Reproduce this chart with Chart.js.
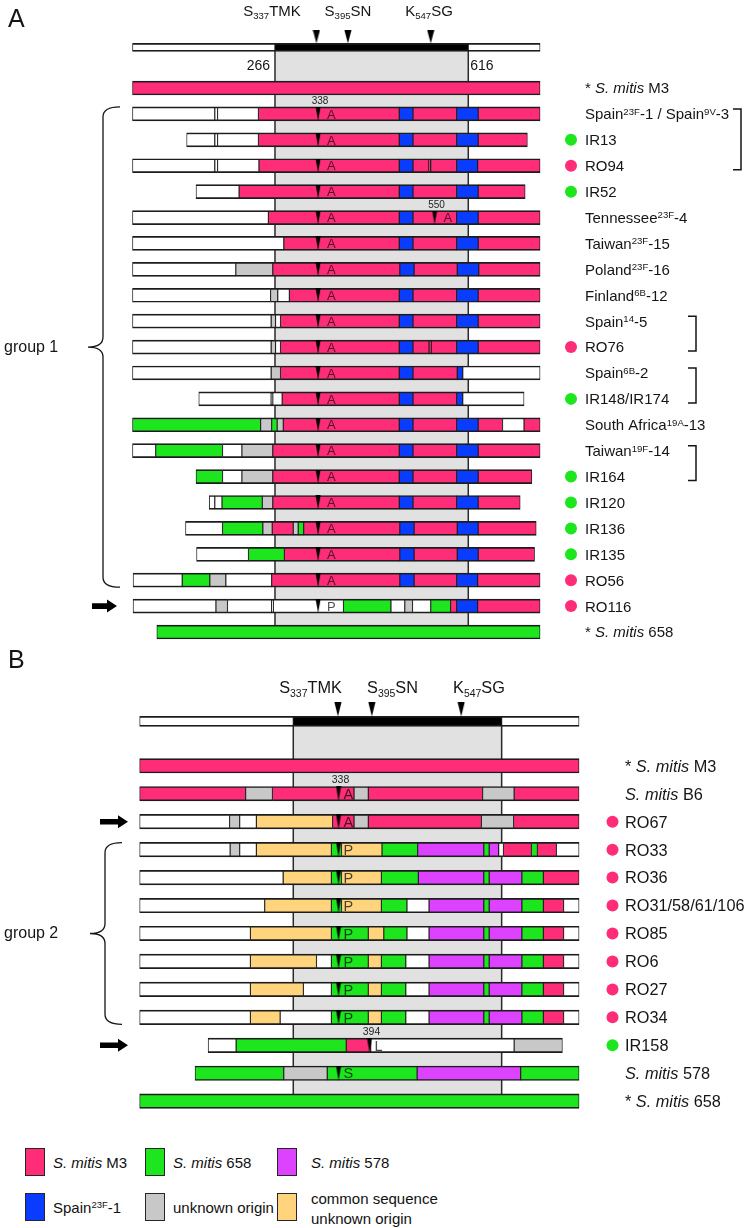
<!DOCTYPE html>
<html>
<head>
<meta charset="utf-8">
<script src="https://cdn.jsdelivr.net/npm/chart.js@4.4.1/dist/chart.umd.min.js"></script>
<style>
  html, body { margin: 0; padding: 0; background: #fff; }
  #page { position: relative; width: 750px; height: 1228px; overflow: hidden; font-family: "Liberation Sans", Arial, sans-serif; color: #111; }
  canvas { position: absolute; left: 0; }
  .sw { position: absolute; width: 18px; height: 26px; border: 1.5px solid #262626; }
  .lt { position: absolute; font-size: 15px; line-height: 20px; white-space: nowrap; }
  .lt sup { font-size: 9.5px; vertical-align: 5px; line-height: 0; }
</style>
</head>
<body>
<div id="page">
  <canvas id="chartA" width="750" height="664" style="top:0"></canvas>
  <canvas id="chartB" width="750" height="492" style="top:640px"></canvas>
  <div id="legend"></div>
</div>
<script>
// ---- data (amino-acid positions along PBP2x) ----
// segment rows: start, origin, break, origin, ..., end
// origins: M = S. mitis M3, G = S. mitis 658, P = S. mitis 578, S = Spain23F-1,
//          U = unknown origin, C = common sequence of unknown origin, W = other (white), K = transpeptidase domain
const domainSegs = [8, 'W', 266, 'K', 616, 'W', 746];
const sitePos = [341, 398, 548];
const siteNames = ['S_{337}TMK', 'S_{395}SN', 'K_{547}SG'];

const namesA = ['* <i>S. mitis</i> M3', 'Spain^{23F}-1 / Spain^{9V}-3', 'IR13', 'RO94', 'IR52',
  'Tennessee^{23F}-4', 'Taiwan^{23F}-15', 'Poland^{23F}-16', 'Finland^{6B}-12', 'Spain^{14}-5', 'RO76',
  'Spain^{6B}-2', 'IR148/IR174', 'South Africa^{19A}-13', 'Taiwan^{19F}-14', 'IR164', 'IR120', 'IR136',
  'IR135', 'RO56', 'RO116', '* <i>S. mitis</i> 658'];
const segsA = [
  [8, 'M', 746],
  [8, 'W', 157, 'W', 162, 'W', 236, 'M', 491, 'S', 516, 'M', 595, 'S', 634, 'M', 746],
  [106, 'W', 157, 'W', 162, 'W', 236, 'M', 491, 'S', 516, 'M', 595, 'S', 634, 'M', 723],
  [8, 'W', 157, 'W', 162, 'W', 237, 'M', 491, 'S', 516, 'M', 544, 'M', 548, 'M', 595, 'S', 633, 'M', 746],
  [123, 'W', 201, 'M', 491, 'S', 516, 'M', 595, 'S', 634, 'M', 719],
  [8, 'W', 254, 'M', 491, 'S', 516, 'M', 595, 'S', 634, 'M', 746],
  [8, 'W', 282, 'M', 491, 'S', 516, 'M', 595, 'S', 634, 'M', 746],
  [8, 'W', 195, 'U', 262, 'M', 492, 'S', 518, 'M', 596, 'S', 635, 'M', 746],
  [8, 'W', 258, 'U', 271, 'W', 292, 'M', 491, 'S', 516, 'M', 595, 'S', 634, 'M', 746],
  [8, 'W', 259, 'U', 267, 'W', 276, 'M', 491, 'S', 516, 'M', 595, 'S', 634, 'M', 746],
  [8, 'W', 259, 'U', 267, 'W', 276, 'M', 491, 'S', 516, 'M', 545, 'M', 549, 'M', 595, 'S', 634, 'M', 746],
  [8, 'W', 259, 'U', 276, 'M', 491, 'S', 516, 'M', 596, 'S', 606, 'W', 746],
  [128, 'W', 259, 'U', 262, 'W', 279, 'M', 491, 'S', 516, 'M', 595, 'S', 606, 'W', 717],
  [8, 'G', 240, 'U', 260, 'G', 270, 'U', 281, 'M', 491, 'S', 516, 'M', 595, 'S', 634, 'M', 678, 'W', 717, 'M', 746],
  [8, 'W', 50, 'G', 171, 'W', 206, 'U', 262, 'M', 491, 'S', 516, 'M', 595, 'S', 634, 'M', 746],
  [123, 'G', 171, 'W', 206, 'U', 262, 'M', 491, 'S', 516, 'M', 595, 'S', 634, 'M', 731],
  [147, 'W', 157, 'W', 170, 'G', 243, 'U', 262, 'M', 491, 'S', 516, 'M', 595, 'S', 634, 'M', 710],
  [104, 'W', 171, 'G', 244, 'U', 261, 'M', 299, 'U', 308, 'G', 318, 'M', 492, 'S', 518, 'M', 596, 'S', 634, 'M', 739],
  [124, 'W', 218, 'G', 283, 'M', 492, 'S', 518, 'M', 596, 'S', 634, 'M', 736],
  [9, 'W', 98, 'G', 148, 'U', 177, 'W', 260, 'M', 492, 'S', 518, 'M', 595, 'S', 633, 'M', 746],
  [9, 'W', 159, 'U', 180, 'W', 260, 'W', 263, 'W', 390, 'G', 476, 'W', 501, 'U', 515, 'W', 548, 'G', 584, 'M', 595, 'S', 633, 'M', 746],
  [52, 'G', 746]
];
// [row, position, residue]
const marksA = [[1, 344, 'A'], [2, 344, 'A'], [3, 344, 'A'], [4, 344, 'A'], [5, 344, 'A'], [5, 555, 'A'],
  [6, 344, 'A'], [7, 344, 'A'], [8, 344, 'A'], [9, 344, 'A'], [10, 344, 'A'], [11, 344, 'A'], [12, 344, 'A'],
  [13, 344, 'A'], [14, 344, 'A'], [15, 344, 'A'], [16, 344, 'A'], [17, 344, 'A'], [18, 344, 'A'], [19, 344, 'A'],
  [20, 344, 'P']];
const numsA = [[1, 344, '338'], [5, 555, '550']];
const bracketsA = [[1, 3], [9, 10], [11, 12], [14, 15]];
const groupA = [1, 19];
const arrowsA = [20];

const namesB = ['* <i>S. mitis</i> M3', '<i>S. mitis</i> B6', 'RO67', 'RO33', 'RO36', 'RO31/58/61/106',
  'RO85', 'RO6', 'RO27', 'RO34', 'IR158', '<i>S. mitis</i> 578', '* <i>S. mitis</i> 658'];
const segsB = [
  [8, 'M', 746],
  [8, 'M', 186, 'U', 231, 'M', 368, 'U', 392, 'M', 584, 'U', 637, 'M', 746],
  [8, 'W', 159, 'U', 176, 'W', 204, 'C', 332, 'M', 368, 'U', 392, 'M', 582, 'U', 636, 'M', 746],
  [8, 'W', 160, 'U', 176, 'W', 204, 'C', 330, 'G', 347, 'C', 415, 'G', 475, 'P', 586, 'G', 595, 'P', 611, 'W', 619, 'M', 666, 'G', 676, 'M', 708, 'W', 746],
  [8, 'W', 249, 'C', 330, 'G', 347, 'C', 414, 'G', 476, 'P', 586, 'G', 595, 'P', 650, 'G', 686, 'M', 746],
  [8, 'W', 218, 'C', 330, 'G', 347, 'C', 414, 'G', 457, 'W', 494, 'P', 586, 'G', 595, 'P', 650, 'G', 686, 'M', 720, 'W', 746],
  [8, 'W', 194, 'C', 330, 'G', 392, 'C', 418, 'G', 457, 'W', 494, 'P', 586, 'G', 595, 'P', 650, 'G', 686, 'M', 720, 'W', 746],
  [8, 'W', 194, 'C', 305, 'W', 330, 'G', 392, 'C', 414, 'G', 455, 'W', 494, 'P', 586, 'G', 595, 'P', 650, 'G', 686, 'M', 720, 'W', 746],
  [8, 'W', 194, 'C', 283, 'W', 330, 'G', 392, 'C', 414, 'G', 455, 'W', 494, 'P', 586, 'G', 595, 'P', 650, 'G', 686, 'M', 720, 'W', 746],
  [8, 'W', 194, 'C', 244, 'W', 330, 'G', 392, 'C', 414, 'G', 455, 'W', 494, 'P', 586, 'G', 595, 'P', 650, 'G', 686, 'M', 720, 'W', 746],
  [123, 'W', 170, 'G', 355, 'M', 396, 'W', 637, 'U', 718],
  [101, 'G', 250, 'U', 323, 'G', 474, 'P', 648, 'G', 746],
  [8, 'G', 746]
];
const marksB = [[1, 342, 'A'], [2, 342, 'A'], [3, 342, 'P'], [4, 342, 'P'], [5, 342, 'P'], [6, 342, 'P'],
  [7, 342, 'P'], [8, 342, 'P'], [9, 342, 'P'], [10, 394, 'L'], [11, 342, 'S']];
const numsB = [[1, 342, '338'], [10, 394, '394']];
const bracketsB = [];
const groupB = [3, 9];
const arrowsB = [2, 10];

const legendItems = [['M', '<i>S. mitis</i> M3'], ['G', '<i>S. mitis</i> 658'], ['P', '<i>S. mitis</i> 578'],
  ['S', 'Spain<sup>23F</sup>-1'], ['U', 'unknown origin'], ['C', 'common sequence<br>unknown origin']];

// ---- styles ----
const fills = { M: '#ff2c78', G: '#1ee61e', P: '#dc42ff', S: '#0a3cff', U: '#c8c8c8', C: '#ffd47c', W: '#ffffff', K: '#000000' };
const edge = '#1c1c1c';
const ink = '#151515';
const FONT = '"Liberation Sans", Arial, sans-serif';

const layoutA = {
  id: 'chartA', h: 664, row0: 84.3, gap: 26.3, domY: 43, padL: 128.1, padR: 202.2, barH: 14, domH: 8, arrowH: 13,
  fs: 15, labelX: 585, dotX: 571, letterGap: 9, letterFs: 13, numFs: 10, numDy: 9.5,
  siteX: [272, 348, 429], siteDy: -31, siteFs: 15, ends: true, endFs: 14,
  bracketX: [741, 696, 696, 696], braceX: 103, braceTip: 88, groupName: 'group 1',
  arrowX: [92, 117], panel: 'A', panelY: 27
};
const layoutB = {
  id: 'chartB', h: 492, row0: 123.3, gap: 28.53, domY: 78, padL: 134.9, padR: 162.6, barH: 14.5, domH: 10, arrowH: 14,
  fs: 16.3, labelX: 625, dotX: 612.5, letterGap: 5, letterFs: 14.5, numFs: 10.5, numDy: 10.5,
  siteX: [310.5, 392.5, 479], siteDy: -28, siteFs: 16.3, ends: false, endFs: 14,
  bracketX: [], braceX: 105, braceTip: 90, groupName: 'group 2',
  arrowX: [100, 128], panel: 'B', panelY: 28
};

// ---- helpers ----
function richText(ctx, str, x, y, fs, align) {
  const parts = str.split(/(\^\{[^}]*\}|_\{[^}]*\}|<i>.*?<\/i>)/).filter(Boolean).map(p =>
    p.startsWith('^{') ? { t: p.slice(2, -1), k: 'sup' } :
    p.startsWith('_{') ? { t: p.slice(2, -1), k: 'sub' } :
    p.startsWith('<i>') ? { t: p.slice(3, -4), k: 'it' } : { t: p, k: '' });
  const font = k => (k === 'it' ? 'italic ' : '') + (k === 'sup' || k === 'sub' ? fs * 0.64 : fs) + 'px ' + FONT;
  let w = 0;
  parts.forEach(p => { ctx.font = font(p.k); p.w = ctx.measureText(p.t).width; w += p.w; });
  let cx = align === 'center' ? x - w / 2 : align === 'right' ? x - w : x;
  ctx.textAlign = 'left';
  ctx.textBaseline = 'alphabetic';
  parts.forEach(p => {
    ctx.font = font(p.k);
    const dy = p.k === 'sup' ? -fs * 0.3 : p.k === 'sub' ? fs * 0.2 : 0;
    ctx.fillText(p.t, cx, y + dy);
    cx += p.w;
  });
}

// narrow down-pointing triangle spanning a bar
function markImg(h) {
  const c = document.createElement('canvas');
  c.width = 6; c.height = Math.round(h);
  const g = c.getContext('2d');
  g.fillStyle = '#000';
  g.beginPath(); g.moveTo(0.5, 0); g.lineTo(5.5, 0); g.lineTo(3, c.height); g.closePath(); g.fill();
  return c;
}
// triangle that sits on top of the domain bar
function siteImg(h, barH) {
  const c = document.createElement('canvas');
  c.width = 8; c.height = Math.round(2 * (h + barH / 2));
  const g = c.getContext('2d');
  g.fillStyle = '#000';
  g.beginPath(); g.moveTo(0.5, 0); g.lineTo(7.5, 0); g.lineTo(4, h); g.closePath(); g.fill();
  return c;
}

function barSet(data, color, thick) {
  return {
    type: 'bar', indexAxis: 'y', data, backgroundColor: color, borderColor: edge,
    borderWidth: { top: 1.7, bottom: 1.7, left: 0.9, right: 0.9 }, borderSkipped: false,
    barThickness: thick, stack: 'gene', order: 2
  };
}

function decor(L, domRow, names, marks, nums, brackets, group, arrows) {
  return {
    id: 'decor',
    beforeDatasetsDraw(chart) {
      const { ctx, scales: { x, y } } = chart;
      const x0 = x.getPixelForValue(domainSegs[2]), x1 = x.getPixelForValue(domainSegs[4]);
      const y0 = y.getPixelForValue(domRow), y1 = y.getPixelForValue(names.length - 1);
      ctx.save();
      ctx.fillStyle = '#e1e1e1';
      ctx.fillRect(x0, y0, x1 - x0, y1 - y0);
      ctx.strokeStyle = '#2a2a2a';
      ctx.lineWidth = 1.5;
      ctx.beginPath();
      ctx.moveTo(x0, y0); ctx.lineTo(x0, y1);
      ctx.moveTo(x1, y0); ctx.lineTo(x1, y1);
      ctx.stroke();
      ctx.restore();
    },
    afterDatasetsDraw(chart) {
      const { ctx, scales: { x, y } } = chart;
      const yDom = y.getPixelForValue(domRow);
      ctx.save();
      ctx.fillStyle = ink;
      siteNames.forEach((s, i) => richText(ctx, s, L.siteX[i], yDom + L.siteDy, L.siteFs, 'center'));
      if (L.ends) {
        ctx.font = L.endFs + 'px ' + FONT;
        ctx.textAlign = 'right';
        ctx.fillText(String(domainSegs[2]), x.getPixelForValue(domainSegs[2]) - 5, yDom + 23);
        ctx.textAlign = 'left';
        ctx.fillText(String(domainSegs[4]), x.getPixelForValue(domainSegs[4]) + 2, yDom + 23);
      }
      // strain labels, Iran (green) / Romania (pink) dots
      names.forEach((n, i) => {
        const yy = y.getPixelForValue(i);
        const dot = /^IR/.test(n) ? fills.G : /^RO/.test(n) ? fills.M : null;
        if (dot) {
          ctx.fillStyle = dot;
          ctx.beginPath(); ctx.arc(L.dotX, yy, 6, 0, Math.PI * 2); ctx.fill();
        }
        ctx.fillStyle = ink;
        richText(ctx, n, L.labelX, yy + L.fs * 0.36, L.fs, 'left');
      });
      // residues after the marked positions
      ctx.fillStyle = 'rgba(0,0,0,0.7)';
      ctx.font = L.letterFs + 'px ' + FONT;
      ctx.textAlign = 'left';
      marks.forEach(m => ctx.fillText(m[2], x.getPixelForValue(m[1]) + L.letterGap, y.getPixelForValue(m[0]) + L.letterFs * 0.36));
      ctx.fillStyle = '#222';
      ctx.font = L.numFs + 'px ' + FONT;
      ctx.textAlign = 'center';
      nums.forEach(n => ctx.fillText(n[2], x.getPixelForValue(n[1]) + 2, y.getPixelForValue(n[0]) - L.numDy));
      // brackets on the right
      ctx.strokeStyle = ink;
      ctx.lineWidth = 1.5;
      brackets.forEach((b, i) => {
        const bx = L.bracketX[i], t = y.getPixelForValue(b[0]) - 5, btm = y.getPixelForValue(b[1]) + 4;
        ctx.beginPath();
        ctx.moveTo(bx - 8, t); ctx.lineTo(bx, t); ctx.lineTo(bx, btm); ctx.lineTo(bx - 8, btm);
        ctx.stroke();
      });
      // group brace
      const top = y.getPixelForValue(group[0]) - 7, bot = y.getPixelForValue(group[1]) + 7;
      const mid = (top + bot) / 2, bx = L.braceX, r = 10;
      ctx.lineWidth = 1.3;
      ctx.beginPath();
      ctx.moveTo(bx + 17, top);
      ctx.quadraticCurveTo(bx, top, bx, top + r);
      ctx.lineTo(bx, mid - r);
      ctx.quadraticCurveTo(bx, mid, L.braceTip, mid);
      ctx.quadraticCurveTo(bx, mid, bx, mid + r);
      ctx.lineTo(bx, bot - r);
      ctx.quadraticCurveTo(bx, bot, bx + 17, bot);
      ctx.stroke();
      ctx.fillStyle = ink;
      ctx.font = '16px ' + FONT;
      ctx.textAlign = 'left';
      ctx.fillText(L.groupName, 4, mid + 5);
      // highlighted strains
      ctx.fillStyle = '#000';
      arrows.forEach(row => {
        const yy = y.getPixelForValue(row), xa = L.arrowX[0], xb = L.arrowX[1];
        ctx.beginPath();
        ctx.moveTo(xa, yy - 2.8); ctx.lineTo(xb - 10, yy - 2.8); ctx.lineTo(xb - 10, yy - 6.5);
        ctx.lineTo(xb, yy); ctx.lineTo(xb - 10, yy + 6.5); ctx.lineTo(xb - 10, yy + 2.8); ctx.lineTo(xa, yy + 2.8);
        ctx.closePath(); ctx.fill();
      });
      ctx.fillStyle = ink;
      ctx.font = '25px ' + FONT;
      ctx.fillText(L.panel, 8, L.panelY);
      ctx.restore();
    }
  };
}

function makePanel(L, names, segs, marks, nums, brackets, group, arrows) {
  const domRow = (L.domY - L.row0) / L.gap;
  const byCode = {};
  segs.forEach((r, i) => {
    for (let k = 1; k < r.length; k += 2) {
      (byCode[r[k]] = byCode[r[k]] || []).push({ x: [r[k - 1], r[k + 1]], y: i });
    }
  });
  const datasets = Object.keys(byCode).map(code => barSet(byCode[code], fills[code], L.barH));
  const dom = [];
  for (let k = 1; k < domainSegs.length; k += 2) dom.push({ x: [domainSegs[k - 1], domainSegs[k + 1]], y: domRow, c: domainSegs[k] });
  datasets.push(barSet(dom, dom.map(d => fills[d.c]), L.domH));
  datasets.push({ type: 'scatter', data: marks.map(m => ({ x: m[1], y: m[0] })), pointStyle: markImg(L.barH), pointRadius: 3, order: 0 });
  datasets.push({ type: 'scatter', data: sitePos.map(v => ({ x: v, y: domRow })), pointStyle: siteImg(L.arrowH, L.domH), pointRadius: 3, order: 0 });

  new Chart(document.getElementById(L.id), {
    type: 'bar',
    data: { datasets },
    options: {
      responsive: false,
      animation: false,
      devicePixelRatio: 1,
      events: [],
      indexAxis: 'y',
      layout: { padding: { left: L.padL, right: L.padR, top: 0, bottom: 0 } },
      scales: {
        x: { type: 'linear', min: 0, max: 760, display: false, stacked: false, offset: false },
        y: { type: 'linear', min: -L.row0 / L.gap, max: (L.h - L.row0) / L.gap, reverse: true, display: false, offset: false }
      },
      plugins: { legend: { display: false }, tooltip: { enabled: false } }
    },
    plugins: [decor(L, domRow, names, marks, nums, brackets, group, arrows)]
  });
}

makePanel(layoutA, namesA, segsA, marksA, numsA, bracketsA, groupA, arrowsA);
makePanel(layoutB, namesB, segsB, marksB, numsB, bracketsB, groupB, arrowsB);

// legend
const legCols = [[25, 53], [145, 173], [277, 311]];
const legRows = [[1148, 1189], [1193, 1189]];
const legend = document.getElementById('legend');
legendItems.forEach((it, i) => {
  const col = legCols[i % 3], row = legRows[Math.floor(i / 3)];
  const sw = document.createElement('div');
  sw.className = 'sw';
  sw.style.cssText = `left:${col[0]}px;top:${row[0]}px;background:${fills[it[0]]}`;
  const t = document.createElement('div');
  t.className = 'lt';
  const twoLines = it[1].includes('<br>');
  t.style.cssText = `left:${col[1]}px;top:${twoLines ? row[1] : row[0] + 5}px`;
  t.innerHTML = it[1];
  legend.appendChild(sw);
  legend.appendChild(t);
});
</script>
</body>
</html>
